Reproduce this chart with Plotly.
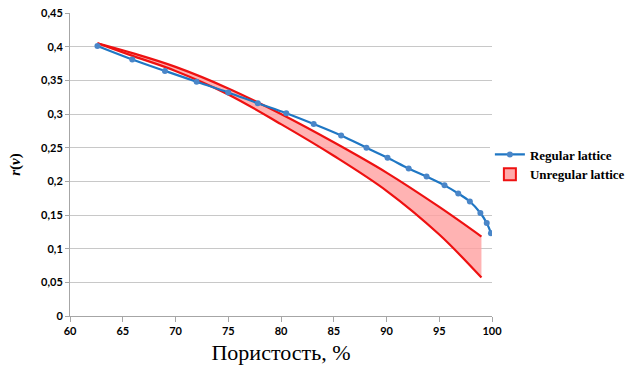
import plotly.graph_objects as go

# Regular lattice: porosity (%) vs r(nu)
reg_x = [62.6, 65.9, 69.0, 72.0, 75.0, 77.8, 80.5, 83.1, 85.7, 88.1, 90.1, 92.1,
         93.8, 95.5, 96.8, 97.9, 98.9, 99.5, 99.9]
reg_y = [0.401, 0.381, 0.364, 0.348, 0.332, 0.316, 0.301, 0.285, 0.268, 0.250,
         0.235, 0.219, 0.207, 0.194, 0.182, 0.170, 0.153, 0.138, 0.123]

# Unregular lattice: band between upper and lower bounds
unreg_x = [62.6, 66.0, 70.0, 75.0, 80.0, 85.0, 90.0, 95.0, 99.0]
unreg_upper = [0.405, 0.390, 0.370, 0.338, 0.300, 0.258, 0.213, 0.162, 0.118]
unreg_lower = [0.405, 0.386, 0.364, 0.329, 0.285, 0.238, 0.186, 0.121, 0.057]

x_ticks = [60, 65, 70, 75, 80, 85, 90, 95, 100]
y_ticks = [0, 0.05, 0.1, 0.15, 0.2, 0.25, 0.3, 0.35, 0.4, 0.45]
y_labels = ["0", "0,05", "0,1", "0,15", "0,2", "0,25", "0,3", "0,35", "0,4", "0,45"]

RED = "#ee1111"
PINK = "rgba(255,160,160,0.8)"
BLUE = "#1f77c4"

fig = go.Figure()

# filled band
fig.add_trace(go.Scatter(
    x=unreg_x + unreg_x[::-1], y=unreg_upper + unreg_lower[::-1],
    mode="lines", fill="toself", fillcolor=PINK, line=dict(width=0),
    showlegend=False, hoverinfo="skip"))
for yy in (unreg_upper, unreg_lower):
    fig.add_trace(go.Scatter(x=unreg_x, y=yy, mode="lines",
                             line=dict(color=RED, width=2.2, shape="spline"),
                             showlegend=False))

fig.add_trace(go.Scatter(x=reg_x, y=reg_y, mode="lines+markers",
                         name="<b>Regular lattice</b>",
                         line=dict(color=BLUE, width=2.2, shape="spline"),
                         marker=dict(color="#4a86c8", size=6)))

# legend entry for the band (boxed swatch)
fig.add_trace(go.Bar(x=[None], y=[None], name="<b>Unregular lattice</b>",
                     marker=dict(color="rgba(255,170,170,1)",
                                 line=dict(color=RED, width=2))))

fig.update_layout(
    width=640, height=374,
    margin=dict(l=70, r=148, t=13, b=58, autoexpand=False),
    paper_bgcolor="white", plot_bgcolor="white",
    legend=dict(x=0.995, y=0.5, xanchor="left", yanchor="middle",
                font=dict(family="Liberation Serif", size=13, color="black"),
                tracegroupgap=0, itemwidth=30),
    xaxis=dict(range=[60, 100], tickvals=x_ticks,
               ticktext=[f"<b>{v}</b>" for v in x_ticks], showgrid=False,
               showline=True, linecolor="#a6a6a6", linewidth=1,
               ticks="outside", ticklen=5, tickcolor="#a6a6a6",
               tickfont=dict(family="Lato", size=11, color="black"),
               title=dict(text="Пористость, %", standoff=8,
                          font=dict(family="Liberation Serif", size=22, color="black")),
               zeroline=False),
    yaxis=dict(range=[0, 0.45], tickvals=y_ticks,
               ticktext=[f"<b>{t}</b>" for t in y_labels],
               showgrid=True, gridcolor="#c8c8c8", gridwidth=1,
               showline=True, linecolor="#a6a6a6", linewidth=1,
               ticks="outside", ticklen=4, tickcolor="#a6a6a6",
               tickfont=dict(family="Lato", size=11, color="black"),
               title=dict(text="<b><i>r</i>(<i>ν</i>)</b>", standoff=16,
                          font=dict(family="Liberation Serif", size=15, color="black")),
               zeroline=False),
)

fig.write_html("out.html")
